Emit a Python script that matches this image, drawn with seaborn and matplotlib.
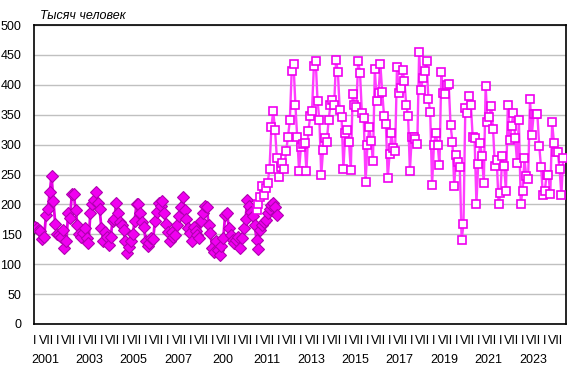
import numpy as np
import pandas as pd
import matplotlib
matplotlib.use('Agg')
import matplotlib.pyplot as plt
import matplotlib.transforms as mtransforms
import seaborn as sns

# ── Data (thousand people, monthly) ─────────────────────────────────────────────
START_YEAR = 2001

# old series, Jan 2001 – Dec 2011 (diamonds)
old_values = [
    163, 160, 158, 156, 142, 146, 182, 192, 220, 247, 205, 168,   # 2001
    150, 149, 145, 157, 127, 138, 185, 178, 217, 218, 190, 166,   # 2002
    150, 145, 152, 160, 143, 135, 185, 200, 208, 221, 202, 193,   # 2003
    160, 138, 154, 145, 132, 145, 172, 175, 203, 185, 170, 166,   # 2004
    157, 138, 118, 128, 139, 150, 173, 200, 200, 185, 170, 163,   # 2005
    138, 131, 135, 143, 142, 173, 187, 202, 198, 205, 186, 168,   # 2006
    154, 138, 154, 145, 149, 165, 180, 196, 212, 190, 175, 160,   # 2007
    152, 138, 163, 155, 148, 144, 173, 185, 197, 196, 166, 152,   # 2008
    127, 121, 138, 124, 116, 130, 144, 183, 186, 160, 149, 141,   # 2009
    135, 140, 145, 127, 144, 160, 175, 207, 197, 188, 180, 166,   # 2010
    141, 125, 157, 166, 171, 174, 185, 193, 199, 202, 196, 182,   # 2011
]
old_start_year = 2001

# new series, Jan 2011 – Nov 2024 (hollow squares)
new_values = [
    191, 201, 213, 230, 215, 227, 236, 260, 329, 356, 324, 277,   # 2011
    246, 263, 270, 260, 289, 313, 341, 423, 435, 367, 313, 256,   # 2012
    296, 301, 303, 256, 322, 347, 357, 431, 440, 373, 341, 249,   # 2013
    291, 311, 305, 341, 367, 375, 367, 441, 422, 358, 346, 260,   # 2014
    319, 324, 305, 258, 384, 366, 363, 440, 419, 353, 344, 237,   # 2015
    299, 329, 306, 273, 426, 373, 386, 434, 388, 348, 334, 244,   # 2016
    284, 319, 294, 289, 429, 386, 394, 425, 407, 367, 348, 256,   # 2017
    313, 312, 309, 301, 455, 391, 412, 423, 439, 377, 354, 232,   # 2018
    299, 319, 300, 266, 421, 386, 385, 400, 402, 333, 305, 231,   # 2019
    283, 271, 262, 140, 167, 362, 353, 381, 366, 312, 311, 201,   # 2020
    268, 302, 281, 235, 398, 337, 346, 365, 326, 264, 275, 201,   # 2021
    219, 281, 264, 222, 367, 308, 331, 353, 311, 270, 341, 201,   # 2022
    222, 277, 247, 242, 377, 316, 351, 351, 351, 298, 262, 216,   # 2023
    222, 250, 250, 217, 337, 302, 288, 288, 260, 216, 277,        # 2024
]
new_start_year = 2011

years = list(range(2001, 2025))
month_labels = ['I', 'VII']
year_labels = ['2001', '2003', '2005', '2007', '200', '2011',
               '2013', '2015', '2017', '2019', '2021', '2023']
y_ticks = list(range(0, 501, 50))

# ── Build frames ────────────────────────────────────────────────────────────────
old_df = pd.DataFrame({
    'month': np.arange(len(old_values)) + 12 * (old_start_year - START_YEAR),
    'value': old_values,
})
new_df = pd.DataFrame({
    'month': np.arange(len(new_values)) + 12 * (new_start_year - START_YEAR),
    'value': new_values,
})

# ── Style ───────────────────────────────────────────────────────────────────────
sns.set_theme(style='white')
plt.rcParams['font.family'] = ['Liberation Sans', 'DejaVu Sans']

fig = plt.figure(figsize=(5.8, 3.79), dpi=100)
ax = fig.add_axes([34 / 580, 55 / 379, 532 / 580, 299 / 379])

sns.lineplot(data=old_df, x='month', y='value', ax=ax, color='#E600E6',
             linewidth=2, marker='D', markersize=6.5,
             markerfacecolor='#F000F0', markeredgecolor='#B000B0',
             markeredgewidth=0.8, zorder=3)
sns.lineplot(data=new_df, x='month', y='value', ax=ax, color='#FF3CFF',
             linewidth=1.7, marker='s', markersize=5.6,
             markerfacecolor='white', markeredgecolor='#F000F0',
             markeredgewidth=1.2, zorder=4)

n_months = 12 * len(years)
ax.set_xlim(-0.5, n_months - 0.5)
ax.set_ylim(0, 500)
ax.set_yticks(y_ticks)
ax.set_yticklabels([str(v) for v in y_ticks], fontsize=9)
ax.yaxis.grid(True, color='#C0C0C0', linewidth=1)
ax.xaxis.grid(False)

tick_pos = [12 * k + m for k in range(len(years)) for m in (0, 6)]
tick_txt = [month_labels[j % 2] for j in range(len(tick_pos))]
ax.set_xticks(tick_pos)
ax.set_xticklabels(tick_txt, fontsize=9)
ax.tick_params(axis='both', length=0, colors='black')
ax.tick_params(axis='x', pad=8)
ax.tick_params(axis='y', pad=9)
ax.set_xlabel('')
ax.set_ylabel('')

for sp in ax.spines.values():
    sp.set_color('black')
    sp.set_linewidth(1.2)

trans = mtransforms.blended_transform_factory(ax.transData, ax.transAxes)
for j, lab in enumerate(year_labels):
    ax.text(24 * j + 5.5, -0.122, lab, transform=trans, ha='center',
            va='center', fontsize=9, color='black')

fig.text(40 / 580, 1 - 16 / 379, 'Тысяч человек', ha='left', va='center',
         fontsize=9, fontstyle='italic', color='black')

fig.savefig('out.png', dpi=100)
